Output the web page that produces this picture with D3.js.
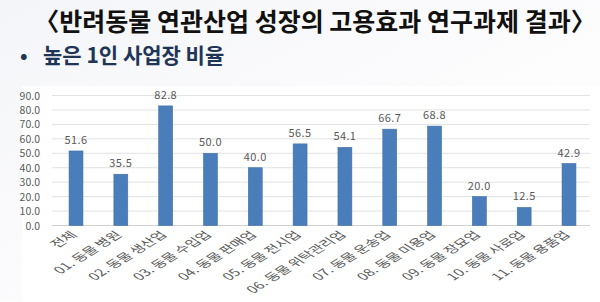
<!DOCTYPE html>
<html>
<head>
<meta charset="utf-8">
<script src="https://cdn.jsdelivr.net/npm/d3@7"></script>
<style>
  body { margin: 0; background: #fff; }
  text { font-family: "Noto Sans CJK KR", "Noto Sans", sans-serif; }
</style>
</head>
<body>
<script>
var categories = ['전체', '01. 동물 병원', '02. 동물 생산업', '03. 동물 수입업', '04. 동물 판매업',
  '05. 동물 전시업', '06. 동물 위탁관리업', '07. 동물 운송업', '08. 동물 미용업',
  '09. 동물 장묘업', '10. 동물 사료업', '11. 동물 용품업']
var values = [51.6, 35.5, 82.8, 50.0, 40.0, 56.5, 54.1, 66.7, 68.8, 20.0, 12.5, 42.9]
var yTicks = [0, 10, 20, 30, 40, 50, 60, 70, 80, 90]

var W = 600, H = 302
var svg = d3.select('body').append('svg').attr('width', W).attr('height', H)

// faint background wash like the slide
var grad = svg.append('defs').append('linearGradient').attr('id', 'bg')
  .attr('x1', 0).attr('y1', 0).attr('x2', 1).attr('y2', 1)
grad.append('stop').attr('offset', '0%').attr('stop-color', '#f4f5f8')
grad.append('stop').attr('offset', '60%').attr('stop-color', '#fdfdfe')
grad.append('stop').attr('offset', '100%').attr('stop-color', '#f3f4f7')
svg.append('rect').attr('width', W).attr('height', H).attr('fill', 'url(#bg)')
svg.append('rect').attr('x', 22).attr('y', 86).attr('width', 578).attr('height', 216).attr('fill', '#fff')

svg.append('text')
  .attr('x', 315).attr('y', 31)
  .attr('text-anchor', 'middle')
  .attr('font-size', 25).attr('font-weight', 700).attr('fill', '#111')
  .text('〈반려동물 연관산업 성장의 고용효과 연구과제 결과〉')

svg.append('text')
  .attr('x', 20).attr('y', 63)
  .attr('font-size', 20).attr('font-weight', 700).attr('fill', '#1f3557')
  .text('•')
svg.append('text')
  .attr('x', 43).attr('y', 63)
  .attr('font-size', 21).attr('font-weight', 700).attr('fill', '#1f3557')
  .text('높은 1인 사업장 비율')

var m = {left: 53.6, right: 8.6, top: 95.5, bottom: 76.5}
var x = d3.scaleBand().domain(categories).range([m.left, W - m.right]).paddingInner(0.69).paddingOuter(0.345)
var y = d3.scaleLinear().domain([0, 90]).range([H - m.bottom, m.top])

var g = svg.append('g')

g.selectAll('line.grid').data(yTicks).join('line')
  .attr('class', 'grid')
  .attr('x1', 52).attr('x2', 590)
  .attr('y1', function(d){ return y(d) }).attr('y2', function(d){ return y(d) })
  .attr('stroke', function(d){ return d === 0 ? '#d0d0d0' : '#e2e2e2' })
  .attr('stroke-width', 1)

g.selectAll('text.ytick').data(yTicks).join('text')
  .attr('class', 'ytick')
  .attr('x', 40).attr('y', function(d){ return y(d) + 4 })
  .attr('text-anchor', 'end')
  .attr('font-size', 10.5).attr('fill', '#595959')
  .attr('font-family', 'DejaVu Sans')
  .text(function(d){ return d3.format('.1f')(d) })

g.selectAll('rect.bar').data(values).join('rect')
  .attr('class', 'bar')
  .attr('x', function(d, i){ return x(categories[i]) })
  .attr('width', x.bandwidth())
  .attr('y', function(d){ return y(d) })
  .attr('height', function(d){ return y(0) - y(d) })
  .attr('fill', '#4a7ebb')
  .attr('stroke', '#3f6fa8').attr('stroke-width', 0.6)

g.selectAll('text.val').data(values).join('text')
  .attr('class', 'val')
  .attr('x', function(d, i){ return x(categories[i]) + x.bandwidth() / 2 })
  .attr('y', function(d){ return y(d) - 7 })
  .attr('text-anchor', 'middle')
  .attr('font-size', 11).attr('fill', '#595959')
  .attr('font-family', 'DejaVu Sans')
  .attr('letter-spacing', 0.4)
  .text(function(d){ return d3.format('.1f')(d) })

// labels: rotated 45deg then stretched sideways, as in the source image
g.selectAll('text.xlab').data(categories).join('text')
  .attr('class', 'xlab')
  .attr('transform', function(d){
    return 'translate(' + (x(d) + x.bandwidth() / 2 + 2) + ',' + (y(0) + 10) + ') scale(1.6,1) rotate(-45)'
  })
  .attr('text-anchor', 'end')
  .attr('font-size', 10).attr('fill', '#595959')
  .text(function(d){ return d })
</script>
</body>
</html>
